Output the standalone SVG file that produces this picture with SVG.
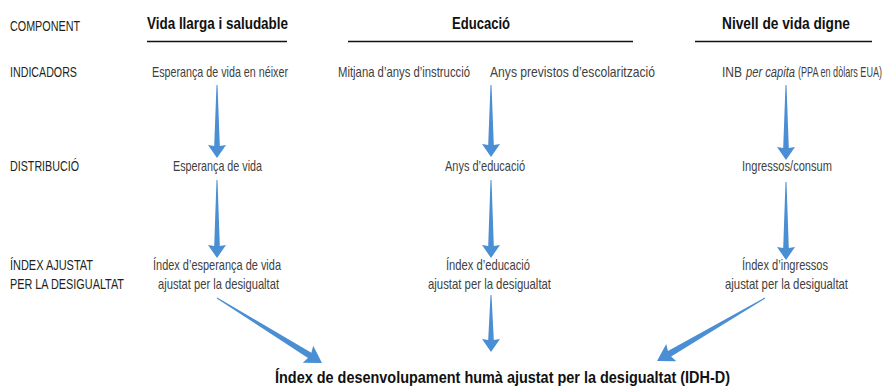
<svg xmlns="http://www.w3.org/2000/svg" width="891" height="387" viewBox="0 0 891 387">
<style>
  .lbl{font-family:"Liberation Sans Narrow","Liberation Sans",Arial,sans-serif;font-size:14.5px;fill:#231f20}
  .txt{font-family:"Liberation Sans Narrow","Liberation Sans",Arial,sans-serif;font-size:14.5px;fill:#3f3f3f;text-anchor:middle}
  .st{text-anchor:start}
  .it{font-style:italic}
  .hd{font-family:"Liberation Sans Narrow","Liberation Sans",Arial,sans-serif;font-size:17px;font-weight:bold;fill:#111;text-anchor:middle}
  .rule{stroke:#111;stroke-width:1.4}
  .arr{fill:#4a8ed4}
</style>
<rect width="891" height="387" fill="#fff"/>
<g id="row-labels">
  <text class="lbl" x="10" y="31" textLength="70" lengthAdjust="spacingAndGlyphs">COMPONENT</text>
  <text class="lbl" x="10" y="77" textLength="67" lengthAdjust="spacingAndGlyphs">INDICADORS</text>
  <text class="lbl" x="10" y="171" textLength="69" lengthAdjust="spacingAndGlyphs">DISTRIBUCIÓ</text>
  <text class="lbl" x="10" y="270" textLength="83" lengthAdjust="spacingAndGlyphs">ÍNDEX AJUSTAT</text>
  <text class="lbl" x="10" y="289" textLength="114" lengthAdjust="spacingAndGlyphs">PER LA DESIGUALTAT</text>
</g>
<g id="comp-vida">
  <text class="hd" x="217.5" y="29" textLength="141" lengthAdjust="spacingAndGlyphs">Vida llarga i saludable</text>
  <line class="rule" x1="147" y1="41.5" x2="287" y2="41.5"/>
</g>
<g id="comp-educacio">
  <text class="hd" x="481" y="29" textLength="58" lengthAdjust="spacingAndGlyphs">Educació</text>
  <line class="rule" x1="348" y1="41.5" x2="633" y2="41.5"/>
</g>
<g id="comp-nivell">
  <text class="hd" x="786" y="29" textLength="128" lengthAdjust="spacingAndGlyphs">Nivell de vida digne</text>
  <line class="rule" x1="695" y1="41.5" x2="872" y2="41.5"/>
</g>
<g id="ind-esperanca"><text class="txt" x="220" y="77" textLength="136" lengthAdjust="spacingAndGlyphs">Esperança de vida en néixer</text></g>
<g id="ind-mitjana"><text class="txt" x="404" y="77" textLength="132" lengthAdjust="spacingAndGlyphs">Mitjana d’anys d’instrucció</text></g>
<g id="ind-previstos"><text class="txt" x="572.5" y="77" textLength="165" lengthAdjust="spacingAndGlyphs">Anys previstos d’escolarització</text></g>
<g id="ind-inb">
  <text class="txt st" x="722" y="77" textLength="20" lengthAdjust="spacingAndGlyphs">INB</text>
  <text class="txt st it" x="746" y="77" textLength="49" lengthAdjust="spacingAndGlyphs">per capita</text>
  <text class="txt st" x="798" y="77" textLength="84" lengthAdjust="spacingAndGlyphs">(PPA en dòlars EUA)</text>
</g>
<g id="dist-vida"><text class="txt" x="217.5" y="171" textLength="89" lengthAdjust="spacingAndGlyphs">Esperança de vida</text></g>
<g id="dist-educacio"><text class="txt" x="485" y="171" textLength="80" lengthAdjust="spacingAndGlyphs">Anys d’educació</text></g>
<g id="dist-ingressos"><text class="txt" x="787" y="171" textLength="90" lengthAdjust="spacingAndGlyphs">Ingressos/consum</text></g>
<g id="idx-vida">
  <text class="txt" x="217" y="270" textLength="128" lengthAdjust="spacingAndGlyphs">Índex d’esperança de vida</text>
  <text class="txt" x="218.5" y="289" textLength="121" lengthAdjust="spacingAndGlyphs">ajustat per la desigualtat</text>
</g>
<g id="idx-educacio">
  <text class="txt" x="488" y="270" textLength="84" lengthAdjust="spacingAndGlyphs">Índex d’educació</text>
  <text class="txt" x="489.5" y="289" textLength="123" lengthAdjust="spacingAndGlyphs">ajustat per la desigualtat</text>
</g>
<g id="idx-ingressos">
  <text class="txt" x="785" y="270" textLength="86" lengthAdjust="spacingAndGlyphs">Índex d’ingressos</text>
  <text class="txt" x="786.5" y="289" textLength="123" lengthAdjust="spacingAndGlyphs">ajustat per la desigualtat</text>
</g>
<g id="idh-d">
  <text class="hd" x="502.5" y="383" textLength="455" lengthAdjust="spacingAndGlyphs">Índex de desenvolupament humà ajustat per la desigualtat (IDH-D)</text>
</g>
<g id="connectors">
  <path class="arr" transform="translate(217,85) rotate(90)" d="M0,-0.5 L61,-2.8 L60,-9 L73,0 L60,9 L61,2.8 L0,0.5 Z"/>
  <path class="arr" transform="translate(217,180) rotate(90)" d="M0,-0.5 L66,-2.8 L65,-9 L78,0 L65,9 L66,2.8 L0,0.5 Z"/>
  <path class="arr" transform="translate(491,85) rotate(90)" d="M0,-0.5 L60,-2.8 L59,-9 L72,0 L59,9 L60,2.8 L0,0.5 Z"/>
  <path class="arr" transform="translate(491,180) rotate(90)" d="M0,-0.5 L66,-2.8 L65,-9 L78,0 L65,9 L66,2.8 L0,0.5 Z"/>
  <path class="arr" transform="translate(786,85) rotate(90)" d="M0,-0.5 L63,-2.8 L62,-9 L75,0 L62,9 L63,2.8 L0,0.5 Z"/>
  <path class="arr" transform="translate(786,182) rotate(90)" d="M0,-0.5 L66,-2.8 L65,-9 L78,0 L65,9 L66,2.8 L0,0.5 Z"/>
  <path class="arr" transform="translate(217,298) rotate(31.76)" d="M0,-0.5 L109,-3.2 L107,-10 L123.5,0 L107,10 L109,3.2 L0,0.5 Z"/>
  <path class="arr" transform="translate(491,295) rotate(90)" d="M0,-0.5 L45,-2.8 L44,-9 L57,0 L44,9 L45,2.8 L0,0.5 Z"/>
  <path class="arr" transform="translate(765,298) rotate(149.74)" d="M0,-0.5 L110.5,-3.2 L108.5,-10 L125,0 L108.5,10 L110.5,3.2 L0,0.5 Z"/>
</g>
</svg>
